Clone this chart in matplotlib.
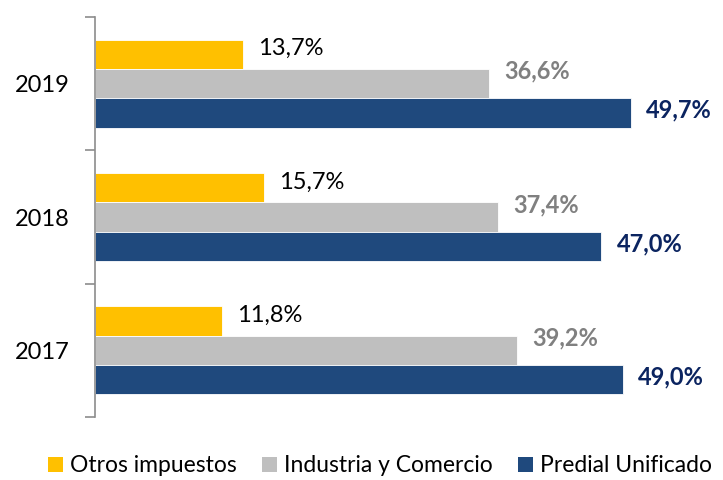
import matplotlib
matplotlib.use("Agg")
import matplotlib.pyplot as plt
from matplotlib.patches import Patch
import numpy as np

plt.rcParams['font.family'] = ['Lato', 'DejaVu Sans']

years = ["2017", "2018", "2019"]
otros = [11.8, 15.7, 13.7]
industria = [39.2, 37.4, 36.6]
predial = [49.0, 47.0, 49.7]
series_names = ["Otros impuestos", "Industria y Comercio", "Predial Unificado"]
colors = ["#FFC000", "#BFBFBF", "#1F497D"]
label_colors = ["#000000", "#808080", "#0B2460"]
label_weights = ["normal", "bold", "bold"]

fig = plt.figure(figsize=(7.23, 4.80), dpi=100)
ax = fig.add_axes([95/723, 1 - 417/480, 625/723, 400/480])

y = np.arange(len(years))
h = 0.22
offsets = [h, 0.0, -h]
label_dy = [4, 9, 2]  # points
for vals, off, c, lc, lw, dy in zip([otros, industria, predial], offsets, colors,
                                     label_colors, label_weights, label_dy):
    bars = ax.barh(y + off, vals, height=h, color=c, edgecolor="white", linewidth=0.6)
    for b, v in zip(bars, vals):
        ax.annotate(f"{v:.1f}%".replace(".", ","),
                    xy=(b.get_width(), b.get_y() + b.get_height() / 2),
                    xytext=(11, dy), textcoords="offset points",
                    ha="left", va="center", fontsize=17, color=lc, fontweight=lw)

ax.set_xlim(0, 58)
ax.set_ylim(-0.5, 2.5)
ax.set_yticks(y)
ax.set_yticklabels(years, fontsize=17)
ax.tick_params(axis="y", which="major", length=0, pad=18)
ax.set_yticks([-0.5, 0.5, 1.5, 2.5], minor=True)
ax.tick_params(axis="y", which="minor", length=7, width=1.2, color="#8C8C8C", direction="out")
ax.set_xticks([])
for s in ["top", "right", "bottom"]:
    ax.spines[s].set_visible(False)
ax.spines["left"].set_color("#8C8C8C")
ax.spines["left"].set_linewidth(1.2)

handles = [Patch(facecolor=c, edgecolor="none") for c in colors]
fig.legend(handles, series_names, loc="center", bbox_to_anchor=(380/723, 1 - 466/480),
           ncol=3, frameon=False, fontsize=16.5, handlelength=0.65, handleheight=0.65,
           handletextpad=0.3, columnspacing=1.1, borderpad=0)

fig.savefig("out.png", dpi=100)
